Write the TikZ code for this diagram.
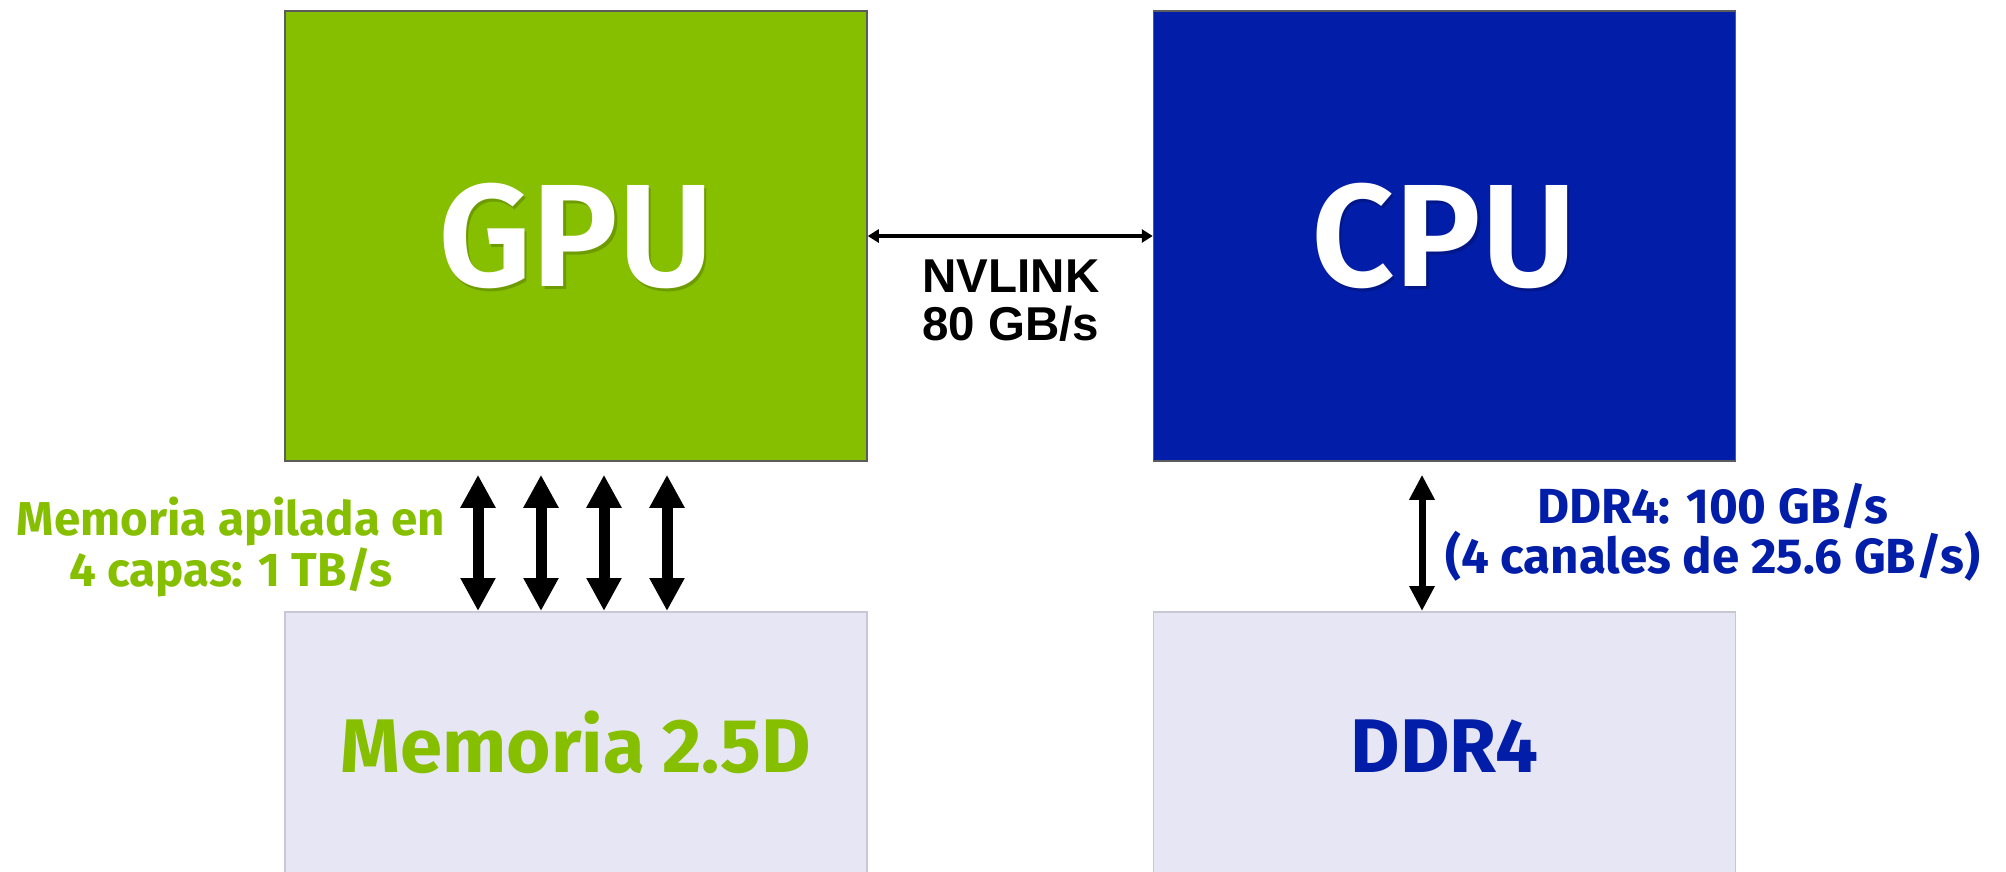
\documentclass[tikz,border=0pt]{standalone}
\usepackage{fontspec}
\setmainfont{Fira Sans}
\newfontfamily\chipfont{Fira Sans SemiBold}
\newfontfamily\arialbold{Liberation Sans}[BoldFont={Liberation Sans Bold}]
\usetikzlibrary{arrows.meta}
\definecolor{nvgreen}{HTML}{86BE00}
\definecolor{cpublue}{HTML}{021DA8}
\definecolor{memfill}{HTML}{E6E6F4}
\definecolor{memedge}{HTML}{C8C8D4}
\definecolor{boxedge}{HTML}{5C5C5C}
\begin{document}
\begin{tikzpicture}[x=1pt,y=-1pt,
  chip/.style={draw=boxedge, line width=1.5pt, minimum width=582pt,
    minimum height=450pt, inner sep=0pt},
  membox/.style={draw=memedge, fill=memfill, line width=1.5pt,
    minimum width=582pt, minimum height=450pt, inner sep=0pt, anchor=north},
  chipname/.style={text=white, inner sep=0pt, anchor=base,
    font=\chipfont\fontsize{146}{146}\selectfont},
  chipshadow/.style={chipname, text=black, opacity=0.18},
  memname/.style={inner sep=0pt, anchor=base,
    font=\fontsize{76}{76}\selectfont\bfseries},
  ratelabel/.style={inner sep=0pt, anchor=base, align=center},
  busarrow/.style={line width=11pt,
    {Triangle[width=33pt,length=33pt]}-{Triangle[width=33pt,length=33pt]}},
  ddrarrow/.style={line width=7pt,
    {Triangle[width=24pt,length=25pt]}-{Triangle[width=24pt,length=25pt]}},
  linkarrow/.style={line width=4pt,
    {Triangle[width=13pt,length=11pt]}-{Triangle[width=13pt,length=11pt]}},
]
\useasboundingbox (0,0) rectangle (2006,871);
\clip (0,0) rectangle (2006,871);

% processors
\node[chip, fill=nvgreen] (gpu) at (576,236) {};
\node[chip, fill=cpublue] (cpu) at (1444.5,236) {};

% memories, running off the lower edge
\node[membox] (mem) at (576,611) {};
\node[membox] (ddr) at (1444.5,611) {};

% chip names with a soft drop shadow
\node[chipshadow] (gpushadow) at (578.5,289) {GPU};
\node[chipname] (gpuname) at (576,286) {GPU};
\node[chipshadow] (cpushadow) at (1446.5,289) {CPU};
\node[chipname] (cpuname) at (1444,286) {CPU};

% memory names
\node[memname, text=nvgreen] (memname) at (576,772) {Memoria 2.5D};
\node[memname, text=cpublue] (ddrname) at (1444.5,772) {DDR4};

% GPU <-> CPU link (base anchor sits on the last line)
\draw[linkarrow] (gpu.east) -- (cpu.west);
\node[ratelabel, font=\arialbold\bfseries\fontsize{47.5}{48}\selectfont]
  (nvlabel) at (1011,340) {NVLINK\\80 GB/s};

% stacked memory bus: four wide links
\foreach \dx in {-98,-35,28,91}
  \draw[busarrow] ([xshift=\dx pt, yshift=-13pt]gpu.south)
    -- ([xshift=\dx pt]mem.north);
\node[ratelabel, text=nvgreen, font=\fontsize{47.5}{51}\selectfont\bfseries]
  (stacklabel) at (231,586) {Memoria apilada en\\4 capas: 1 TB/s};

% DDR4 channel
\draw[ddrarrow] ([xshift=-22.5pt, yshift=-13pt]cpu.south)
  -- ([xshift=-22.5pt]ddr.north);
\node[ratelabel, text=cpublue, font=\fontsize{49.3}{50}\selectfont\bfseries]
  (ddrlabel) at (1713,573) {DDR4: 100 GB/s\\(4 canales de 25.6 GB/s)};
\end{tikzpicture}
\end{document}
